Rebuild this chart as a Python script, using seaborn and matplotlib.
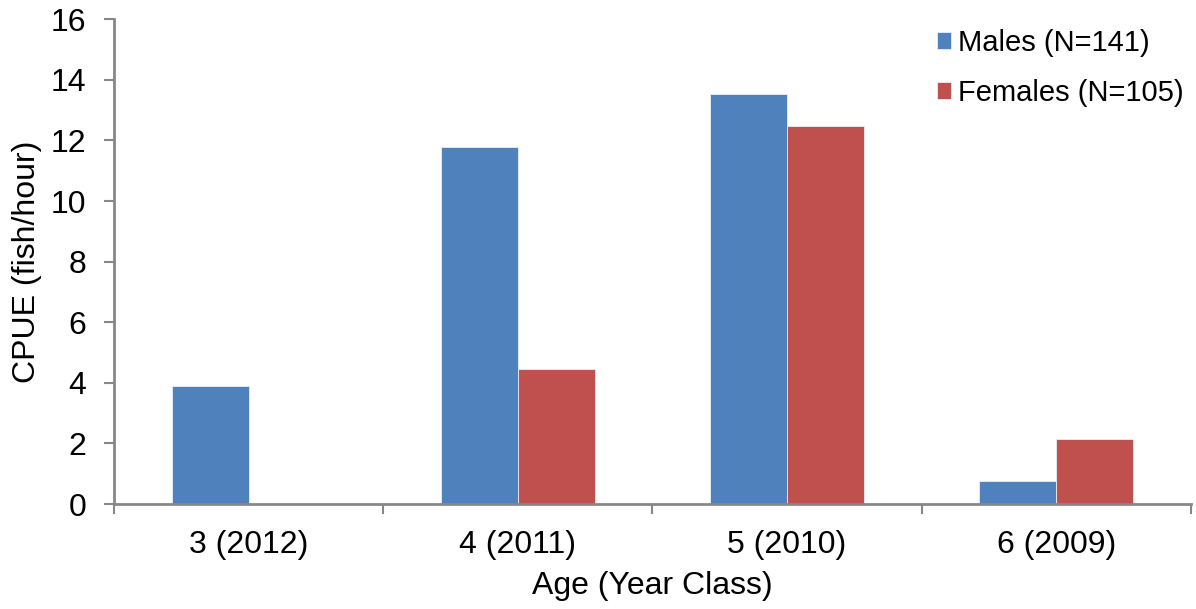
import matplotlib
matplotlib.use("Agg")
import matplotlib.pyplot as plt
import seaborn as sns
import pandas as pd
import numpy as np

# Catch per unit effort by age (year class) and sex
age_classes = ["3 (2012)", "4 (2011)", "5 (2010)", "6 (2009)"]
males = [3.9, 11.8, 13.55, 0.76]
females = [0.0, 4.46, 12.48, 2.16]
series_labels = ["Males (N=141)", "Females (N=105)"]
colors = ["#4F81BD", "#C0504D"]

df = pd.DataFrame({
    "age": age_classes * 2,
    "cpue": males + females,
    "sex": [series_labels[0]] * len(age_classes) + [series_labels[1]] * len(age_classes),
})

sns.set_style("white")
plt.rcParams["font.family"] = ["Liberation Sans", "DejaVu Sans"]
plt.rcParams["text.color"] = "black"
plt.rcParams["axes.labelcolor"] = "black"

FS = 23
LEG_FS = 21

fig = plt.figure(figsize=(11.96, 6.09), dpi=100)
ax = fig.add_axes([0.0953, 0.1724, 0.9005, 0.7959])

sns.barplot(data=df, x="age", y="cpue", hue="sex", order=age_classes,
            hue_order=series_labels, palette=colors, width=0.572,
            saturation=1, ax=ax, edgecolor="#e8eef7", linewidth=0.6)

ax.set_ylim(0, 16)
ax.set_xlim(-0.5, len(age_classes) - 0.5)
ax.set_yticks(np.arange(0, 17, 2))
ax.set_yticklabels([str(v) for v in range(0, 17, 2)])

# Tick marks sit between categories, labels sit under the centres
ax.set_xticks(np.arange(-0.5, len(age_classes), 1.0), minor=True)
ax.tick_params(axis="x", which="major", length=0, pad=18.5, labelsize=FS,
               labelcolor="black")
ax.tick_params(axis="x", which="minor", length=7, width=1.5, color="#878787",
               direction="out", bottom=True)
ax.tick_params(axis="y", which="major", length=7, width=1.5, color="#878787",
               direction="out", left=True, pad=13, labelsize=FS,
               labelcolor="black")

for side in ["top", "right"]:
    ax.spines[side].set_visible(False)
for side in ["left", "bottom"]:
    ax.spines[side].set_color("#878787")
    ax.spines[side].set_linewidth(2)

ax.set_xlabel("Age (Year Class)", fontsize=FS, labelpad=8)
ax.set_ylabel("CPUE (fish/hour)", fontsize=FS, labelpad=6)

handles, labels = ax.get_legend_handles_labels()
leg = ax.legend(handles, labels, loc="upper left",
                bbox_to_anchor=(922 / 1196, 1 - 14 / 609),
                bbox_transform=fig.transFigure, borderpad=0,
                frameon=False, fontsize=LEG_FS, handlelength=0.51, handleheight=0.51,
                handletextpad=0.24, labelspacing=0.76, labelcolor="black")

fig.savefig("out.png", dpi=100, facecolor="white")
